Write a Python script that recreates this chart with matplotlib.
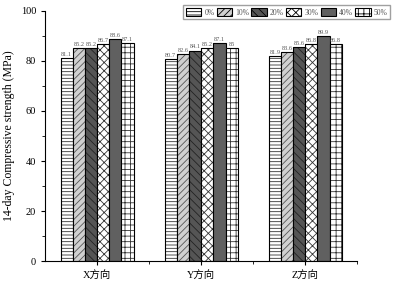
import matplotlib.pyplot as plt
import numpy as np

plt.rcParams["font.family"] = ["Liberation Serif", "Noto Sans CJK SC"]
plt.rcParams["hatch.linewidth"] = 0.6

directions = ["X方向", "Y方向", "Z方向"]
contents = ["0%", "10%", "20%", "30%", "40%", "50%"]
strength = {
    "0%": [81.1, 80.7, 81.9],
    "10%": [85.2, 82.6, 83.6],
    "20%": [85.2, 84.1, 85.6],
    "30%": [86.7, 85.2, 86.8],
    "40%": [88.6, 87.1, 89.9],
    "50%": [87.1, 85.0, 86.8],
}

styles = [
    ("white", "-----", "#333333"),
    ("#d0d0d0", "/////", "#555555"),
    ("#555555", "\\\\\\\\", "#222222"),
    ("white", "xxxx", "#333333"),
    ("#606060", "", "#606060"),
    ("white", "+++", "#333333"),
]

fig = plt.figure(figsize=(3.96, 2.86), dpi=100)
ax = fig.add_axes([0.114, 0.087, 0.788, 0.875])

x = np.arange(len(directions))
w = 0.117
for i, c in enumerate(contents):
    face, hatch, hcol = styles[i]
    pos = x + (i - 2.5) * w
    bars = ax.bar(pos, strength[c], w, color=face, hatch=hatch,
                  edgecolor=hcol, linewidth=0, label=c)
    ax.bar(pos, strength[c], w, color="none", edgecolor="black", linewidth=0.8)
    for b, v in zip(bars, strength[c]):
        ax.text(b.get_x() + b.get_width() / 2, v + 0.5, f"{v:g}",
                ha="center", va="bottom", fontsize=4.5, color="#555555")

ax.set_xlim(-0.5, 2.5)
ax.set_ylim(0, 100)
ax.set_xticks(x)
ax.set_xticklabels(directions, fontsize=7.5)
ax.set_xticks([0.5, 1.5, 2.5], minor=True)
ax.set_yticks(np.arange(0, 101, 20))
ax.set_yticks(np.arange(0, 101, 10), minor=True)
ax.tick_params(axis="both", direction="out", length=3, labelsize=7.5)
ax.tick_params(axis="both", which="minor", direction="out", length=2)
ax.spines["top"].set_visible(False)
ax.spines["right"].set_visible(False)
ax.set_ylabel("14-day Compressive strength (MPa)", fontsize=8.5)

handles = []
for i, c in enumerate(contents):
    face, hatch, hcol = styles[i]
    handles.append(plt.Rectangle((0, 0), 1, 1, facecolor=face, hatch=hatch,
                                 edgecolor="black", linewidth=0.8))
fig.legend(handles, contents, loc="upper right", bbox_to_anchor=(0.995, 0.995),
           ncol=6, fontsize=5.5, frameon=True, fancybox=False, edgecolor="#888888",
           handlelength=2.0, handleheight=1.3, handletextpad=0.4, columnspacing=0.3,
           borderpad=0.35, labelcolor="#555555")

fig.savefig("out.png", dpi=100)
